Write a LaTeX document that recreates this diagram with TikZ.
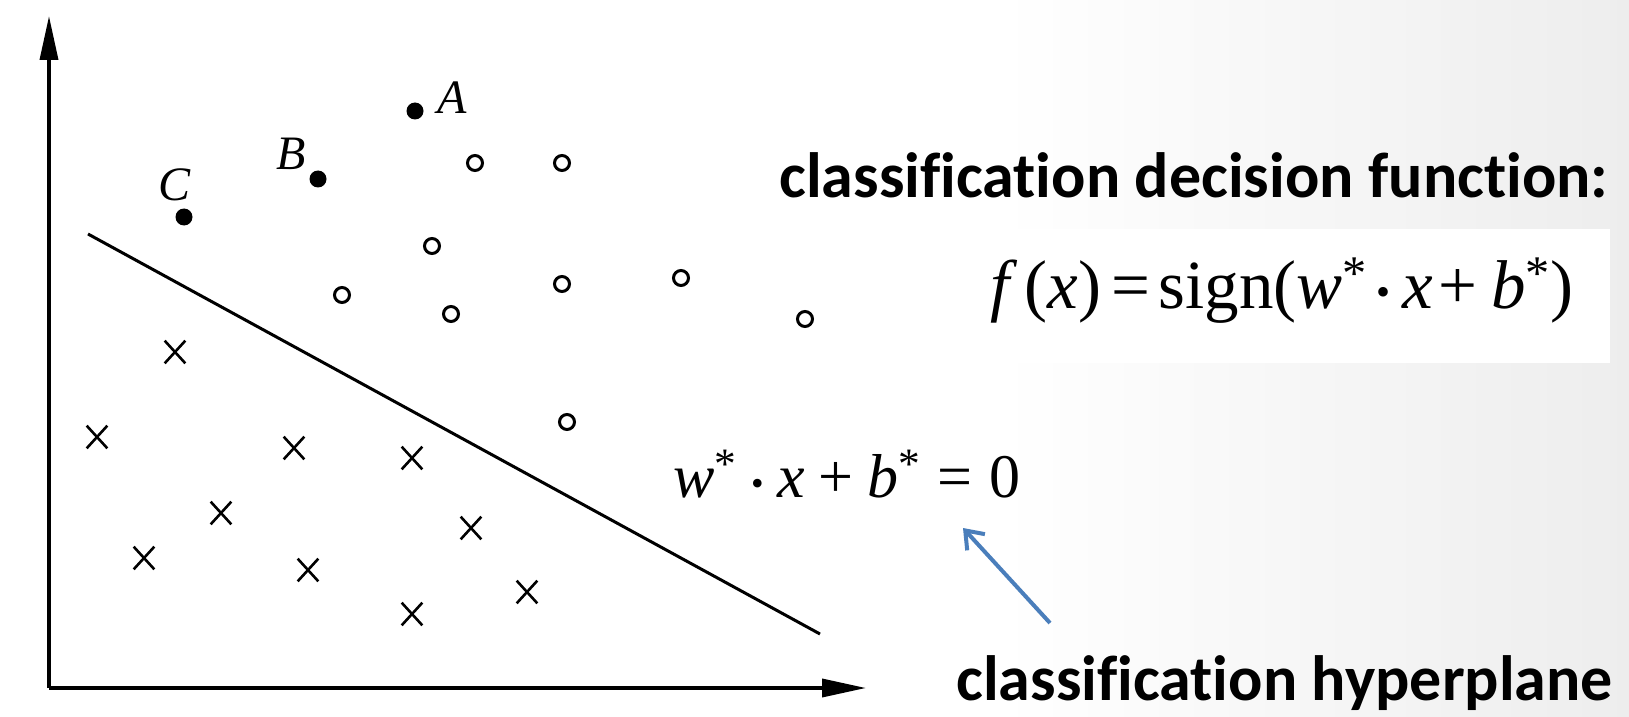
\documentclass[tikz,border=0pt]{standalone}
\usepackage{fontspec}
\usepackage{graphicx}
\setmainfont{Liberation Serif}
\newfontfamily\boldlab{Carlito}[Ligatures=NoCommon]
\usetikzlibrary{arrows.meta,shapes.misc}
\definecolor{arrowblue}{RGB}{74,126,187}
\newcommand{\mdot}{\raisebox{0.03em}{\scalebox{0.58}{•}}}
\newcommand{\sstar}{\textsuperscript{*}}
\newcommand{\bsp}{\hspace{0.22em}}
\newcommand{\rsp}{\hspace{0.27em}}
\tikzset{
  axis/.style={line width=1.8pt, -{Triangle[length=22pt,width=9pt]}},
  plane/.style={line width=1.5pt},
  opnt/.style={circle, draw, line width=1.5pt, inner sep=0pt, minimum size=7.5pt},
  fpnt/.style={circle, fill, inner sep=0pt, minimum size=8.5pt},
  xpnt/.style={cross out, draw, line width=1.3pt, inner sep=0pt, minimum width=9pt, minimum height=10pt},
  ptlab/.style={font=\fontsize{24}{28}\selectfont\itshape, inner sep=0pt},
  lab/.style={font=\boldlab\bfseries\fontsize{32}{36}\selectfont, inner sep=0pt},
  eqn/.style={inner sep=0pt},
  pointer/.style={draw=arrowblue, line width=2pt, -{Straight Barb[length=8pt,width=12pt,line width=2pt]}}
}
\begin{document}
\begin{tikzpicture}[x=0.5pt,y=-0.5pt]
\useasboundingbox (0,0) rectangle (1629,717);
% background
\fill[white] (0,0) rectangle (1629,717);
\shade[left color=white, right color=black!7] (1000,0) rectangle (1629,717);
\fill[white] (0,0) rectangle (1000,717);
\fill[white] (915,229) rectangle (1610,363);

% axes
\coordinate (O) at (49,688);
\coordinate (ytip) at (49,16);
\coordinate (xtip) at (866,688);
\draw[axis] (O) -- (ytip);
\draw[axis] (O) -- (xtip);

% hyperplane
\coordinate (h1) at (88,234);
\coordinate (h2) at (820,634);
\draw[plane] (h1) -- (h2);

% filled points
\node[fpnt] (A) at (415,111) {};
\node[fpnt] (B) at (318,179) {};
\node[fpnt] (C) at (184,217) {};
\node[ptlab] (Alab) at (452,98) {A};
\node[ptlab] (Blab) at (291,154) {B};
\node[ptlab] (Clab) at (175,185) {C};

% open points
\node[opnt] (o1) at (475,163) {};
\node[opnt] (o2) at (562,163) {};
\node[opnt] (o3) at (432,246) {};
\node[opnt] (o4) at (342,295) {};
\node[opnt] (o5) at (451,314) {};
\node[opnt] (o6) at (562,284) {};
\node[opnt] (o7) at (681,278) {};
\node[opnt] (o8) at (805,319) {};
\node[opnt] (o9) at (567,422) {};

% crosses
\node[xpnt] (x1) at (175,352) {};
\node[xpnt] (x2) at (97,437) {};
\node[xpnt] (x3) at (294,448) {};
\node[xpnt] (x4) at (412,458) {};
\node[xpnt] (x5) at (221,513) {};
\node[xpnt] (x6) at (471,528) {};
\node[xpnt] (x7) at (144,558) {};
\node[xpnt] (x8) at (308,570) {};
\node[xpnt] (x9) at (527,592) {};
\node[xpnt] (x10) at (412,614) {};

% equations
\node[eqn, anchor=base west, font=\fontsize{31}{36}\selectfont] (eq2) at (673,497)
  {\textit{w}\sstar\bsp\mdot\bsp\textit{x}\bsp+\bsp\textit{b}\sstar\rsp=\rsp0};
\node[eqn, anchor=base west, font=\fontsize{34.5}{40}\selectfont] (eq1) at (990,308)
  {\textit{f}\hspace{0.1em}(\textit{x})\hspace{0.15em}=\hspace{0.12em}sign(\textit{w}\sstar\hspace{0.12em}\mdot\hspace{0.18em}\textit{x}\hspace{0.08em}+\hspace{0.2em}\textit{b}\sstar)};

% text labels
\node[lab, anchor=base west] (t1) at (779,198) {classification decision function:};
\node[lab, anchor=base west] (t2) at (956,700) {classification hyperplane};

% pointer arrow
\coordinate (atail) at (1050,623);
\coordinate (ahead) at (963,528);
\draw[pointer] (atail) -- (ahead);
\end{tikzpicture}
\end{document}
